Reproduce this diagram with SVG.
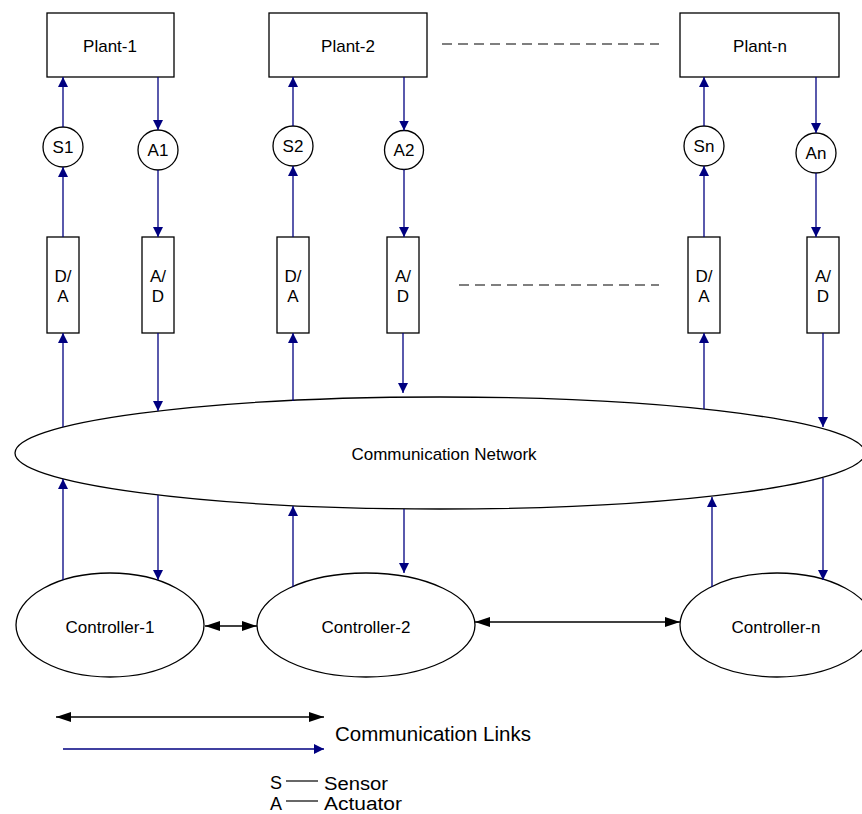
<svg xmlns="http://www.w3.org/2000/svg" width="862" height="814" viewBox="0 0 862 814">
<style>
.box{fill:#fff;stroke:#000;stroke-width:1.3}
.t{font-family:"Liberation Sans",Arial,sans-serif;font-size:17px;fill:#000;text-anchor:middle}
.lg{font-family:"Liberation Sans",Arial,sans-serif;font-size:20px;fill:#000}
.sm{font-family:"Liberation Sans",Arial,sans-serif;font-size:18px;fill:#000}
.b{stroke:#000080;stroke-width:1.3;fill:none;marker-end:url(#ab)}
.k{stroke:#000;stroke-width:1.3;fill:none;marker-end:url(#ak);marker-start:url(#aks)}
.dash{stroke:#000;stroke-width:1.2;stroke-dasharray:10,6;fill:none}
</style>
<defs>
<marker id="ab" markerUnits="userSpaceOnUse" viewBox="0 0 10 10" refX="10" refY="5" markerWidth="10" markerHeight="10" orient="auto"><path d="M0,0 L10,5 L0,10 z" fill="#000080"/></marker>
<marker id="ak" markerUnits="userSpaceOnUse" viewBox="0 0 15 10" refX="15" refY="5" markerWidth="15" markerHeight="10" orient="auto"><path d="M0,0 L15,5 L0,10 z" fill="#000"/></marker>
<marker id="aks" markerUnits="userSpaceOnUse" viewBox="0 0 15 10" refX="0" refY="5" markerWidth="15" markerHeight="10" orient="auto"><path d="M15,0 L0,5 L15,10 z" fill="#000"/></marker>
</defs>
<rect width="862" height="814" fill="#fff"/>

<g id="plant1"><rect class="box" x="47" y="13" width="127" height="64"/><text class="t" x="110" y="52">Plant-1</text></g>
<g id="plant2"><rect class="box" x="269" y="13" width="158" height="64"/><text class="t" x="348" y="52">Plant-2</text></g>
<g id="plantn"><rect class="box" x="680" y="13" width="159" height="64"/><text class="t" x="760" y="52">Plant-n</text></g>

<g id="s1"><circle class="box" cx="63" cy="147" r="20"/><text class="t" x="63" y="153">S1</text></g>
<g id="a1"><circle class="box" cx="158" cy="150" r="20"/><text class="t" x="158" y="156">A1</text></g>
<g id="s2"><circle class="box" cx="293" cy="146" r="20"/><text class="t" x="293" y="152">S2</text></g>
<g id="a2"><circle class="box" cx="404" cy="150" r="19.5"/><text class="t" x="404" y="156">A2</text></g>
<g id="sn"><circle class="box" cx="704" cy="146" r="20"/><text class="t" x="704" y="152">Sn</text></g>
<g id="an"><circle class="box" cx="816" cy="153" r="20"/><text class="t" x="816" y="159">An</text></g>

<g id="da1"><rect class="box" x="47" y="237" width="32" height="96"/><text class="t" x="63" y="282">D/</text><text class="t" x="63" y="302">A</text></g>
<g id="ad1"><rect class="box" x="142" y="237" width="32" height="96"/><text class="t" x="158" y="282">A/</text><text class="t" x="158" y="302">D</text></g>
<g id="da2"><rect class="box" x="277" y="237" width="32" height="96"/><text class="t" x="293" y="282">D/</text><text class="t" x="293" y="302">A</text></g>
<g id="ad2"><rect class="box" x="387" y="237" width="32" height="96"/><text class="t" x="403" y="282">A/</text><text class="t" x="403" y="302">D</text></g>
<g id="dan"><rect class="box" x="688" y="237" width="32" height="96"/><text class="t" x="704" y="282">D/</text><text class="t" x="704" y="302">A</text></g>
<g id="adn"><rect class="box" x="807" y="237" width="32" height="96"/><text class="t" x="823" y="282">A/</text><text class="t" x="823" y="302">D</text></g>

<g id="network"><ellipse class="box" cx="440" cy="453" rx="425" ry="56"/><text class="t" x="444" y="460">Communication Network</text></g>

<g id="controller1"><ellipse class="box" cx="110" cy="625" rx="94" ry="52"/><text class="t" x="110" y="633">Controller-1</text></g>
<g id="controller2"><ellipse class="box" cx="366" cy="625" rx="109" ry="52"/><text class="t" x="366" y="633">Controller-2</text></g>
<g id="controllern"><ellipse class="box" cx="777" cy="625" rx="97" ry="52"/><text class="t" x="776" y="633">Controller-n</text></g>

<g id="connectors">
<path class="b" d="M63,127 V77"/>
<path class="b" d="M158,77 V130"/>
<path class="b" d="M63,237 V167"/>
<path class="b" d="M158,170 V237"/>
<path class="b" d="M63,427 V333"/>
<path class="b" d="M158,333 V411"/>
<path class="b" d="M63,580 V479"/>
<path class="b" d="M158,495 V580"/>

<path class="b" d="M293,126 V77"/>
<path class="b" d="M404,77 V130.5"/>
<path class="b" d="M293,237 V166"/>
<path class="b" d="M404,169.5 V237"/>
<path class="b" d="M293,401 V333"/>
<path class="b" d="M403,333 V393"/>
<path class="b" d="M293,587 V506"/>
<path class="b" d="M404,509 V573"/>

<path class="b" d="M704,126 V77"/>
<path class="b" d="M816,77 V133"/>
<path class="b" d="M704,237 V166"/>
<path class="b" d="M816,173 V237"/>
<path class="b" d="M704,409 V333"/>
<path class="b" d="M823,333 V427"/>
<path class="b" d="M712,587 V497"/>
<path class="b" d="M823,478 V580"/>

<path class="k" d="M205,626 H257"/>
<path class="k" d="M475,622 H680"/>

<path class="dash" d="M442,44 H659"/>
<path class="dash" d="M459,285 H659"/>
</g>

<g id="legend">
<path class="k" d="M56,717 H324"/>
<path class="b" d="M63,749 H324"/>
<text class="lg" x="335" y="741" style="font-size:20.5px">Communication Links</text>
<text class="sm" x="270" y="789" textLength="14">S</text>
<path d="M286,781 H318" stroke="#000" stroke-width="1.2"/>
<text class="sm" x="324" y="789.5" textLength="64" lengthAdjust="spacingAndGlyphs">Sensor</text>
<text class="sm" x="270" y="809.5" textLength="14">A</text>
<path d="M286,801 H318" stroke="#000" stroke-width="1.2"/>
<text class="sm" x="324" y="810" textLength="78" lengthAdjust="spacingAndGlyphs">Actuator</text>
</g>
</svg>
